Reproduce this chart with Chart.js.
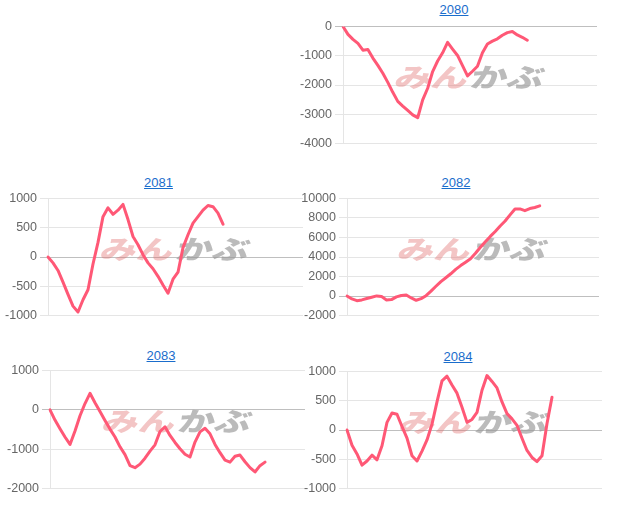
<!DOCTYPE html>
<html><head><meta charset="utf-8">
<script src="https://cdn.jsdelivr.net/npm/chart.js@4/dist/chart.umd.min.js"></script>
<style>
body{margin:0;background:#fff;width:620px;height:518px;overflow:hidden;position:relative;font-family:"Liberation Sans",Arial,sans-serif;}
.title{position:absolute;width:100px;text-align:center;font-size:13px;line-height:normal;}
.title a{color:#1a6dcc;text-decoration:underline;}
.box{position:absolute;}
</style></head><body>
<script>
const chartTitles = ['2080', '2081', '2082', '2083', '2084'];
const slotCount = 52;
const values2080 = [0, -270, -440, -580, -810, -790, -1080, -1330, -1600, -1910, -2250, -2560, -2720, -2870, -3020, -3120, -2510, -2110, -1540, -1180, -900, -540, -770, -990, -1340, -1690, -1530, -1360, -900, -600, -500, -420, -300, -210, -170, -290, -370, -470];
const values2081 = [0, -100, -230, -430, -640, -840, -940, -730, -560, -120, 250, 690, 840, 730, 800, 900, 640, 350, 210, 40, -100, -200, -330, -480, -620, -380, -260, 160, 380, 580, 690, 800, 880, 860, 750, 560];
const values2082 = [0, -300, -480, -400, -260, -130, 10, -60, -400, -370, -90, 50, 100, -200, -440, -270, 30, 500, 1000, 1480, 1870, 2280, 2730, 3120, 3470, 3830, 4380, 5000, 5570, 6110, 6620, 7180, 7690, 8320, 8930, 8930, 8750, 8970, 9080, 9240];
const values2083 = [0, -260, -480, -690, -880, -540, -150, 160, 420, 180, -40, -270, -490, -690, -940, -1140, -1420, -1470, -1380, -1230, -1050, -890, -550, -430, -650, -830, -990, -1130, -1200, -820, -560, -470, -610, -880, -1090, -1280, -1330, -1180, -1150, -1320, -1470, -1580, -1420, -1330];
const values2084 = [0, -260, -410, -600, -530, -430, -510, -270, 130, 290, 270, 60, -140, -440, -530, -360, -170, 100, 480, 840, 920, 770, 630, 390, 130, 180, 300, 680, 930, 830, 720, 480, 280, 190, 80, -140, -350, -470, -540, -440, 110, 560];
const yMins = [-4000, -1000, -2000, -2000, -1000];
const yMaxs = [0, 1000, 10000, 1000, 1000];
const ySteps = [1000, 500, 2000, 1000, 500];

const seriesList = [values2080, values2081, values2082, values2083, values2084];
const layouts = [
  {cellLeft:300, plotL:343, plotR:597, plotT:26, plotB:144, titleX:454, titleY:1.5},
  {cellLeft:0, plotL:48, plotR:303, plotT:198, plotB:316, titleX:158.5, titleY:174.5},
  {cellLeft:300, plotL:347, plotR:599, plotT:198, plotB:316, titleX:456, titleY:174.5},
  {cellLeft:0, plotL:50, plotR:305, plotT:370, plotB:489, titleX:161, titleY:348},
  {cellLeft:300, plotL:347, plotR:602, plotT:371, plotB:489, titleX:458, titleY:348.5}
];

Chart.defaults.font.family = '"Liberation Sans", Arial, sans-serif';
Chart.defaults.font.size = 12;
Chart.defaults.color = '#666';

const watermark = {
  id: 'wm',
  beforeDatasetsDraw(chart) {
    const {ctx, chartArea: a} = chart;
    const cx = (a.left + a.right) / 2, cy = (a.top + a.bottom) / 2 - 8;
    ctx.save();
    ctx.translate(cx, cy);
    ctx.transform(1, 0, -0.25, 1, 0, 0);
    ctx.scale(1.4, 1);
    ctx.font = '900 26px "Noto Sans CJK JP"';
    ctx.textBaseline = 'middle';
    ctx.textAlign = 'right';
    ctx.fillStyle = 'rgba(225,110,110,0.4)';
    ctx.fillText('みん', -1, 0);
    ctx.textAlign = 'left';
    ctx.fillStyle = 'rgba(150,150,150,0.65)';
    ctx.fillText('かぶ', 1, 0);
    ctx.restore();
  }
};

const labels = Array.from({length: slotCount}, (_, i) => String(i + 1));

seriesList.forEach((vals, k) => {
  const L = layouts[k];
  const t = document.createElement('div');
  t.className = 'title';
  t.style.left = (L.titleX - 50) + 'px';
  t.style.top = L.titleY + 'px';
  const a = document.createElement('a');
  a.href = '#';
  a.textContent = chartTitles[k];
  t.appendChild(a);
  document.body.appendChild(t);

  const box = document.createElement('div');
  box.className = 'box';
  const w = L.plotR + 5 - L.cellLeft;
  const h = L.plotB - L.plotT + 20;
  box.style.left = L.cellLeft + 'px';
  box.style.top = (L.plotT - 10) + 'px';
  box.style.width = w + 'px';
  box.style.height = h + 'px';
  const c = document.createElement('canvas');
  c.width = w; c.height = h;
  box.appendChild(c);
  document.body.appendChild(box);
  const axisW = L.plotL - L.cellLeft;

  new Chart(c, {
    type: 'line',
    data: {labels: labels, datasets: [{
      data: vals, borderColor: 'rgb(255,88,118)', borderWidth: 3, pointRadius: 0,
      tension: 0, fill: false, borderJoinStyle: 'round', borderCapStyle: 'round'
    }]},
    options: {
      responsive: false, animation: false,
      layout: {padding: {top: 10, bottom: 10, left: 0, right: 5}},
      plugins: {legend: {display: false}, tooltip: {enabled: false}},
      scales: {
        x: {display: false},
        y: {
          min: yMins[k], max: yMaxs[k],
          ticks: {stepSize: ySteps[k], color: '#666', font: {size: 12.5}, callback: (v) => String(v)},
          grid: {color: (ctx) => (ctx.tick && ctx.tick.value === 0) ? 'rgba(0,0,0,0.25)' : 'rgba(0,0,0,0.1)'},
          border: {color: 'rgba(0,0,0,0.1)'},
          afterFit(s) { s.width = axisW; }
        }
      }
    },
    plugins: [watermark]
  });
});
</script>
</body></html>
